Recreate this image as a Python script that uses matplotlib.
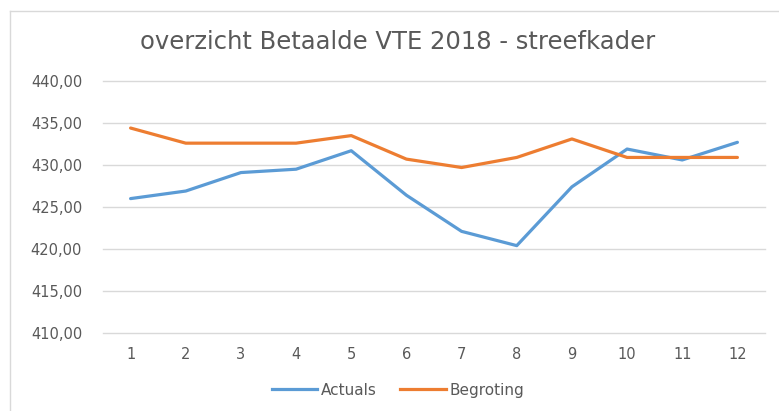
import matplotlib.pyplot as plt
from matplotlib.lines import Line2D
from matplotlib.ticker import FuncFormatter

plt.rcParams['font.family'] = ['DejaVu Sans']

maanden = [1, 2, 3, 4, 5, 6, 7, 8, 9, 10, 11, 12]
actuals = [426.0, 426.9, 429.1, 429.5, 431.7, 426.4, 422.1, 420.4, 427.4, 431.9, 430.6, 432.7]
begroting = [434.4, 432.6, 432.6, 432.6, 433.5, 430.7, 429.7, 430.9, 433.1, 430.9, 430.9, 430.9]
y_ticks = [410, 415, 420, 425, 430, 435, 440]

blauw = '#5B9BD5'
oranje = '#ED7D31'
grijs = '#595959'

fig = plt.figure(figsize=(7.79, 4.11), dpi=100)
ax = fig.add_axes([103 / 779, 78 / 411, 662 / 779, 252 / 411])

x = list(range(len(maanden)))
ax.plot(x, actuals, color=blauw, lw=2.3, solid_capstyle='round', solid_joinstyle='round', label='Actuals')
ax.plot(x, begroting, color=oranje, lw=2.3, solid_capstyle='round', solid_joinstyle='round', label='Begroting')

ax.set_xlim(-0.5, len(maanden) - 0.5)
ax.set_ylim(410, 440)
ax.set_yticks(y_ticks)
ax.yaxis.set_major_formatter(FuncFormatter(lambda v, p: f"{v:.2f}".replace('.', ',')))
ax.set_xticks(x)
ax.set_xticklabels([str(m) for m in maanden])
ax.grid(axis='y', color='#D9D9D9', lw=1)
for gl in ax.get_ygridlines():
    gl.set_clip_on(False)
ax.set_axisbelow(True)
for s in ax.spines.values():
    s.set_visible(False)
ax.tick_params(length=0, colors=grijs, labelsize=10.5)
ax.tick_params(axis='y', pad=15)
ax.tick_params(axis='x', pad=10)

fig.text(0.511, 0.898, 'overzicht Betaalde VTE 2018 - streefkader', ha='center', va='center',
         fontsize=17.5, color=grijs)

handles = [Line2D([], [], color=blauw, lw=2.3), Line2D([], [], color=oranje, lw=2.3)]
fig.legend(handles, ['Actuals', 'Begroting'], loc='center', bbox_to_anchor=(0.511, 0.051), ncol=2,
           frameon=False, handlelength=2.95, handletextpad=0.25, columnspacing=1.55,
           labelcolor=grijs, fontsize=11)

# rand van de grafiek
fig.add_artist(Line2D([10 / 779, 1], [1 - 11 / 411, 1 - 11 / 411], color='#D9D9D9', lw=1))
fig.add_artist(Line2D([10 / 779, 10 / 779], [0, 1 - 11 / 411], color='#D9D9D9', lw=1))

fig.savefig('out.png', dpi=100)
